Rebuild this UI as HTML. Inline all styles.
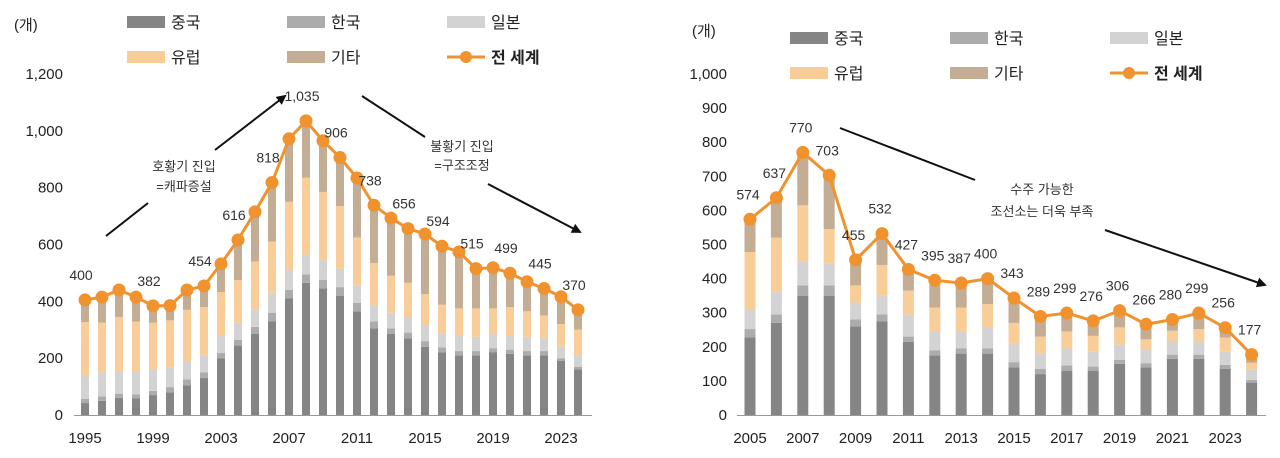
<!DOCTYPE html>
<html><head><meta charset="utf-8"><style>
html,body{margin:0;padding:0;background:#fff;}
svg{display:block;font-family:"Liberation Sans","Noto Sans CJK KR",sans-serif;}
</style></head><body>
<svg id="chart" width="1280" height="458" viewBox="0 0 1280 458" xmlns="http://www.w3.org/2000/svg">
<defs><marker id="ah" markerWidth="10" markerHeight="10" refX="8" refY="5" orient="auto" markerUnits="userSpaceOnUse"><path d="M0,0 L10,5 L0,10 z" fill="#111"/></marker></defs>
</svg>
<script>
const leftYears=[1995,1996,1997,1998,1999,2000,2001,2002,2003,2004,2005,2006,2007,2008,2009,2010,2011,2012,2013,2014,2015,2016,2017,2018,2019,2020,2021,2022,2023,2024];
const leftChina=[42,50,60,58,70,80,105,130,200,245,285,330,410,465,445,420,365,305,285,270,240,220,210,210,220,215,210,210,190,160];
const leftKorea=[15,15,15,15,15,18,20,20,18,20,25,30,30,30,30,30,30,25,20,20,20,18,15,15,15,15,15,15,10,10];
const leftJapan=[80,85,80,80,75,70,65,60,60,60,60,70,70,70,70,65,60,55,55,55,55,50,55,50,50,50,50,45,40,40];
const leftEurope=[190,175,190,175,165,165,180,170,155,150,170,180,240,270,240,220,170,150,130,120,110,100,95,100,90,100,90,80,80,90];
const leftOther=[78,90,95,87,59,52,70,74,99,141,175,208,222,200,180,171,209,203,203,191,212,206,199,140,143,119,104,95,96,70];
const leftTotal=[405,415,440,415,384,385,440,454,532,616,715,818,972,1035,965,906,834,738,693,656,637,594,574,515,518,499,469,445,416,370];
const leftLabels=["400","","","","382","","","454","","616","","818","","1,035","","906","","738","","656","","594","","515","","499","","445","","370"];
const leftTicks=["0","200","400","600","800","1,000","1,200"];
const rightYears=[2005,2006,2007,2008,2009,2010,2011,2012,2013,2014,2015,2016,2017,2018,2019,2020,2021,2022,2023,2024];
const rightChina=[228,270,350,350,260,275,215,175,180,180,140,120,130,130,150,140,165,165,135,95];
const rightKorea=[24,25,30,30,20,20,15,15,15,15,15,15,15,12,12,12,12,12,12,8];
const rightJapan=[56,65,70,65,50,55,65,55,50,60,55,45,50,45,45,40,40,40,40,30];
const rightEurope=[170,160,165,100,50,90,70,70,70,70,60,50,50,45,50,30,30,35,40,20];
const rightOther=[96,117,155,158,75,92,62,80,72,75,73,59,54,44,49,44,33,47,29,24];
const rightTotal=[574,637,770,703,455,532,427,395,387,400,343,289,299,276,306,266,280,299,256,177];
const rightLabels=["574","637","770","703","455","532","427","395","387","400","343","289","299","276","306","266","280","299","256","177"];
const rightTicks=["0","100","200","300","400","500","600","700","800","900","1,000"];

const svg=document.getElementById('chart');
const NS='http://www.w3.org/2000/svg';
function mk(tag,attrs,parent){const e=document.createElementNS(NS,tag);for(const k in attrs)e.setAttribute(k,attrs[k]);(parent||svg).appendChild(e);return e;}
const colors=['#858585','#acacac','#d3d3d3','#f9cd98','#c4ad95'];
const names=['중국','한국','일본','유럽','기타'];

function drawChart(cfg){
  const g=mk('g',{});
  
  
  const ys=v=>cfg.y0-(v/cfg.ymax)*(cfg.y0-cfg.ytop);
  const xs=i=>cfg.x0+i*cfg.step;
  // y ticks
  cfg.ticks.forEach((t,i)=>{const v=i*cfg.tickStep;const tx=mk('text',{x:cfg.tickX,y:ys(v)+5,'text-anchor':'end','font-size':15,fill:'#222'},g);tx.textContent=t;
    
    });
  // axis
  const ax=mk('line',{x1:cfg.axisL,x2:cfg.axisR,y1:cfg.y0+0.5,y2:cfg.y0+0.5,stroke:'#999','stroke-width':1},g);
  
  
  const series=[cfg.china,cfg.korea,cfg.japan,cfg.europe,cfg.other];
  cfg.years.forEach((yr,i)=>{
    let acc=0;
    series.forEach((s,k)=>{
      const r=mk('rect',{x:xs(i)-cfg.bw/2,width:cfg.bw,y:ys(acc+s[i]),height:ys(acc)-ys(acc+s[i]),fill:colors[k]},g);
      
      
      acc+=s[i];
    });
    if((yr-cfg.years[0])%cfg.labEvery===0){
      const t=mk('text',{x:xs(i),y:cfg.y0+28,'text-anchor':'middle','font-size':15,fill:'#222'},g);t.textContent=yr;
      
      
    }
  });
  const pts=cfg.total.map((v,i)=>xs(i)+','+ys(v)).join(' ');
  const pl=mk('polyline',{points:pts,fill:'none',stroke:'#f0922e','stroke-width':3},g);
  
  
  cfg.total.forEach((v,i)=>{
    const c=mk('circle',{cx:xs(i),cy:ys(v),r:6.5,fill:'#f0922e'},g);
    
    
    if(cfg.labels[i]){
      const t=mk('text',{x:xs(i)+cfg.lblDx,y:ys(v)-cfg.lblDy,'text-anchor':'middle','font-size':14,fill:'#333'},g);t.textContent=cfg.labels[i];
      
      
    }
  });
  // legend
  const lx=cfg.legX, ly=cfg.legY;
  const order=[[0,0,0],[1,1,0],[2,2,0],[3,0,1],[4,1,1]];
  order.forEach(([k,c,r])=>{
    const x=lx+c*160, y=ly+r*35;
    const rr=mk('rect',{x:x,y:y-6,width:38,height:12,fill:colors[k]},g);
    
    
    const t=mk('text',{x:x+44,y:y+6,'font-size':16,fill:'#222'},g);t.textContent=names[k];
    
    
  });
  const wx=lx+320, wy=ly+35;
  const ll=mk('line',{x1:wx,x2:wx+38,y1:wy,y2:wy,stroke:'#f0922e','stroke-width':3},g);
  
  
  mk('circle',{cx:wx+19,cy:wy,r:6,fill:'#f0922e'},g);
  const wt=mk('text',{x:wx+44,y:wy+6,'font-size':16,fill:'#222','font-weight':'bold'},g);wt.textContent='전 세계';
  
  
  const u=mk('text',{x:cfg.unitX,y:cfg.unitY,'font-size':15,fill:'#222'},g);u.textContent='(개)';
  
  
}
drawChart({id:'left-chart',years:leftYears,china:leftChina,korea:leftKorea,japan:leftJapan,europe:leftEurope,other:leftOther,total:leftTotal,labels:leftLabels,ticks:leftTicks,tickStep:200,
  y0:415,ytop:74,ymax:1200,x0:85,step:17.0,bw:8,axisL:74,axisR:592,tickX:63,labEvery:4,lblDx:-4,lblDy:20,legX:127,legY:22,unitX:14,unitY:30});
drawChart({id:'right-chart',years:rightYears,china:rightChina,korea:rightKorea,japan:rightJapan,europe:rightEurope,other:rightOther,total:rightTotal,labels:rightLabels,ticks:rightTicks,tickStep:100,
  y0:415,ytop:74,ymax:1000,x0:750,step:26.4,bw:11,axisL:737,axisR:1266,tickX:727,labEvery:2,lblDx:-2,lblDy:20,legX:790,legY:38,unitX:692,unitY:36});

// annotations
function line(x1,y1,x2,y2,arrow){const l=mk('line',{x1,y1,x2,y2,stroke:'#111','stroke-width':2});if(arrow)l.setAttribute('marker-end','url(#ah)');
  
  }
function txt(x,y,s){const t=mk('text',{x,y,'text-anchor':'middle','font-size':13,fill:'#333'});t.textContent=s;
  
  }
line(106,236,148,203,false); line(215,150,285,96,true);
txt(184,171,'호황기 진입'); txt(184,191,'=캐파증설');
line(362,96,425,137,false); line(488,184,580,232,true);
txt(462,151,'불황기 진입'); txt(462,170,'=구조조정');
line(840,128,975,180,false); line(1105,230,1265,285,true);
txt(1042,194,'수주 가능한'); txt(1042,216,'조선소는 더욱 부족');
</script>
</body></html>
